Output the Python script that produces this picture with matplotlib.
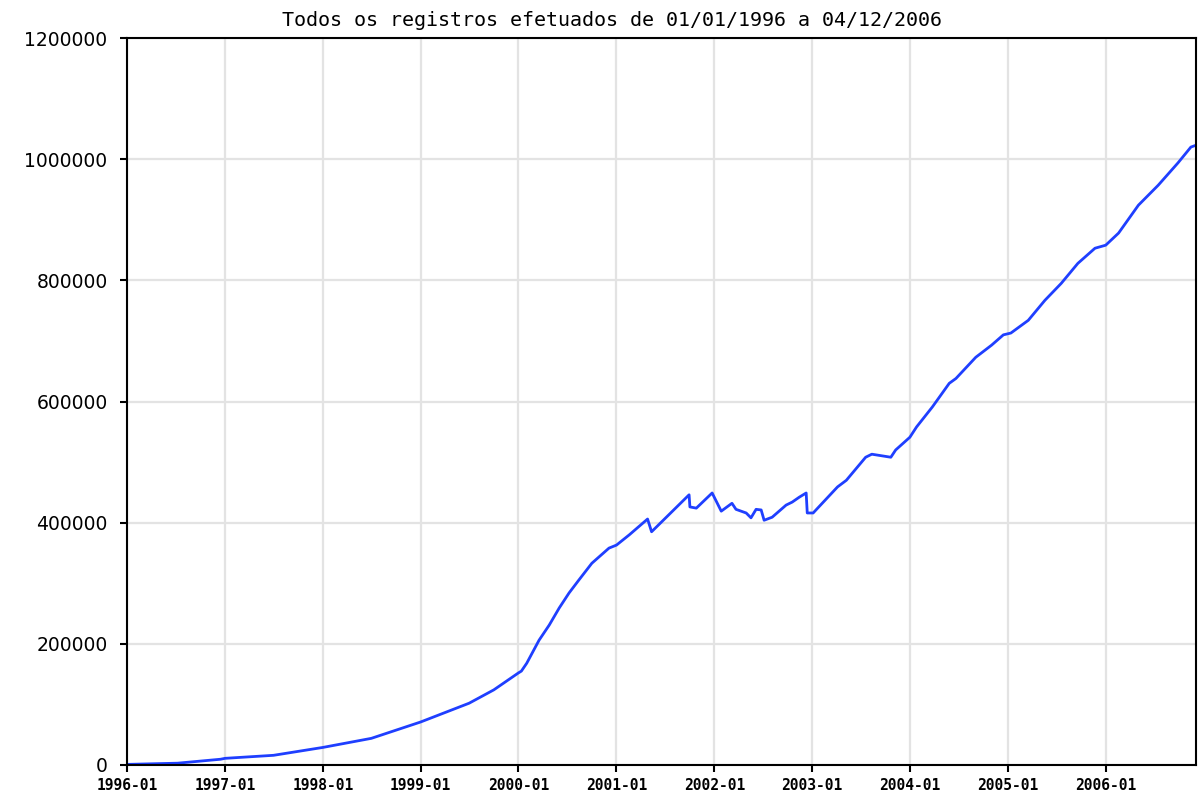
import matplotlib
matplotlib.use("Agg")
import matplotlib.pyplot as plt
import numpy as np
import pandas as pd

dates = [
    "1996-01-01", "1996-07-08", "1996-12-15", "1997-01-01", "1997-07-01",
    "1998-01-01", "1998-07-01", "1999-01-01", "1999-07-01", "1999-10-01",
    "2000-01-01", "2000-01-12", "2000-02-01", "2000-03-18", "2000-04-25",
    "2000-06-01", "2000-07-08", "2000-08-13", "2000-10-01", "2000-12-04",
    "2001-01-01", "2001-02-18", "2001-04-27", "2001-05-12", "2001-09-29",
    "2001-10-02", "2001-10-26", "2001-12-24", "2002-01-27", "2002-03-08",
    "2002-03-23", "2002-04-30", "2002-05-18", "2002-06-06", "2002-06-25",
    "2002-07-06", "2002-08-05", "2002-09-26", "2002-10-19", "2002-11-14",
    "2002-12-10", "2002-12-14", "2003-01-05", "2003-04-06", "2003-05-09",
    "2003-07-20", "2003-08-12", "2003-10-22", "2003-11-09", "2004-01-01",
    "2004-01-26", "2004-03-25", "2004-05-27", "2004-06-21", "2004-09-03",
    "2004-11-01", "2004-12-15", "2005-01-12", "2005-03-18", "2005-05-19",
    "2005-07-19", "2005-09-19", "2005-11-22", "2006-01-01", "2006-02-18",
    "2006-05-03", "2006-07-16", "2006-09-28", "2006-11-15", "2006-12-04",
]
registros = [
    1000, 3000, 9500, 11000, 16000,
    29000, 44000, 71000, 102000, 124000,
    152000, 155000, 168000, 206000, 231000,
    259000, 284000, 305000, 333000, 358000,
    363000, 380000, 406000, 385000, 446000,
    426000, 424000, 449000, 419000, 432000,
    422000, 416000, 408000, 422000, 421000,
    404000, 409000, 429000, 434000, 442000,
    449000, 416000, 416000, 459000, 470000,
    508000, 513000, 508000, 520000, 541000,
    558000, 591000, 630000, 638000, 673000,
    693000, 710000, 713000, 734000, 767000,
    795000, 828000, 853000, 858000, 878000,
    924000, 957000, 994000, 1020000, 1023000,
]
xtick_labels = ["1996-01", "1997-01", "1998-01", "1999-01", "2000-01", "2001-01",
                "2002-01", "2003-01", "2004-01", "2005-01", "2006-01"]
ytick_values = [0, 200000, 400000, 600000, 800000, 1000000, 1200000]
title = "Todos os registros efetuados de 01/01/1996 a 04/12/2006"

x = pd.to_datetime(dates)

fig = plt.figure(figsize=(11.98, 7.98), dpi=100)
ax = fig.add_axes([127 / 1198, 33 / 798, (1196 - 127) / 1198, (765 - 38) / 798])

ax.plot(x, registros, color="#1f3fff", linewidth=2.0, solid_joinstyle="round")

ax.set_xlim(pd.Timestamp("1996-01-01"), pd.Timestamp("2006-12-04"))
ax.set_ylim(0, 1200000)

xt = pd.to_datetime([s + "-01" for s in xtick_labels])
ax.set_xticks(xt)
ax.set_xticklabels(xtick_labels, fontfamily="DejaVu Sans Mono", fontweight="bold", fontsize=10.5)
ax.set_yticks(ytick_values)
ax.set_yticklabels([str(v) for v in ytick_values], fontfamily="DejaVu Sans", fontsize=13.5)

ax.grid(True, color="#e3e3e3", linewidth=1.6)
ax.set_axisbelow(True)
for s in ax.spines.values():
    s.set_linewidth(1.5)
    s.set_color("black")
ax.tick_params(axis="both", direction="out", length=5, width=1.5, colors="black")
ax.tick_params(axis="x", pad=4)
ax.tick_params(axis="y", pad=9)

fig.text(612 / 1198, 1 - 21 / 798, title, fontfamily="DejaVu Sans Mono", fontsize=14.4,
         ha="center", va="center")

fig.savefig("out.png", dpi=100)
